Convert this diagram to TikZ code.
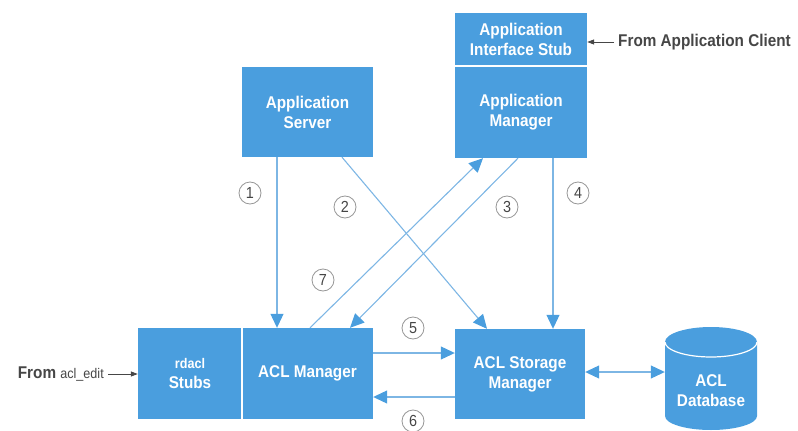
\documentclass[tikz,border=0pt]{standalone}
\usepackage{fontspec}
\setmainfont{Liberation Sans}[FakeStretch=0.9]
\usetikzlibrary{arrows.meta, positioning, calc}
\definecolor{hpblue}{RGB}{74,158,222}
\definecolor{hpline}{RGB}{125,182,228}
\definecolor{hpgrey}{RGB}{70,70,70}
\definecolor{hpring}{RGB}{150,150,150}
\tikzset{
  box/.style={fill=hpblue, text=white, font=\bfseries\fontsize{17}{20}\selectfont, align=center, inner sep=0pt},
  flow/.style={draw=hpline, line width=1.1pt, -{Triangle[length=14pt, width=13pt, color=hpblue]}},
  stepnum/.style={circle, draw=hpring, line width=0.8pt, minimum size=22pt, inner sep=0pt, text=hpgrey, font=\fontsize{16}{16}\selectfont},
  outer/.style={text=hpgrey, font=\bfseries\fontsize{17}{20}\selectfont, inner ysep=0pt, inner xsep=4pt},
}

\begin{document}
\begin{tikzpicture}[x=1pt, y=-1pt]
        \useasboundingbox (0,0) rectangle (798,431);

        \node [box, minimum width=131pt, minimum height=90pt] (srv) at (307.5, 112) {Application\\Server};
        \node [box, minimum width=132pt, minimum height=53pt] (stub) at (521, 39.5) {Application\\Interface Stub};
        \node [box, minimum width=132pt, minimum height=92pt] (appmgr) at (521, 112) {Application\\Manager};
        \node [box, minimum width=104pt, minimum height=91pt] (rdacl) at (190, 373.5) {{\fontsize{14}{17}\selectfont rdacl}\\Stubs};
        \node [box, minimum width=131pt, minimum height=91pt] (aclmgr) at (307.5, 373.5) {ACL Manager};
        \node [box, minimum width=130pt, minimum height=90pt] (store) at (520, 374) {ACL Storage\\Manager};

        \draw [white, line width=2pt] (rdacl.north east) -- (rdacl.south east);
        \draw [white, line width=2pt] (stub.south west) -- (stub.south east);

        % database drum
        \fill [hpblue] (665,342) arc [start angle=180, end angle=0, x radius=46pt, y radius=15pt]
            -- (757,416) arc [start angle=0, end angle=-180, x radius=46pt, y radius=14pt] -- cycle;
        \draw [white, line width=1.2pt] (665,342) arc [start angle=180, end angle=360, x radius=46pt, y radius=15pt];
        \node [box, fill=none, minimum width=92pt, minimum height=60pt] (db) at (711, 391) {ACL\\Database};

        \draw [flow] ([xshift=-30.5pt]srv.south) -- ([xshift=-30.5pt]aclmgr.north);
        \draw [flow] ([xshift=34.5pt]srv.south) -- ([xshift=-33pt]store.north);
        \draw [flow] ([xshift=-3pt]appmgr.south) -- ([xshift=42.5pt]aclmgr.north);
        \draw [flow] ([xshift=32pt]appmgr.south) -- ([xshift=33pt]store.north);
        \draw [flow] ([yshift=20.5pt]aclmgr.east) -- ([yshift=21pt]store.west);
        \draw [flow] ([yshift=-23pt]store.west) -- ([yshift=-23.5pt]aclmgr.east);
        \draw [flow] ([xshift=2.5pt]aclmgr.north) -- ([xshift=-38pt]appmgr.south);
        \draw [flow, {Triangle[length=14pt, width=13pt, color=hpblue]}-{Triangle[length=14pt, width=13pt, color=hpblue]}]
            ([yshift=2pt]store.east) -- ([yshift=2pt]store.east -| db.west);

        \node [stepnum] (n1) at (250, 193) {1};
        \node [stepnum] (n2) at (345, 207) {2};
        \node [stepnum] (n3) at (507, 207) {3};
        \node [stepnum] (n4) at (578, 193) {4};
        \node [stepnum] (n5) at (413, 328) {5};
        \node [stepnum] (n6) at (413, 421) {6};
        \node [stepnum] (n7) at (323, 280) {7};

        \node [outer, anchor=west] (client) at (614, 42) {From Application Client};
        \node [outer, anchor=east] (edit) at (108, 374) {From {\mdseries\fontsize{14}{17}\selectfont acl\_edit}};
        \draw [hpgrey, line width=0.8pt, -{Triangle[length=7pt, width=5pt]}] (client.west) -- (client.west -| stub.east);
        \draw [hpgrey, line width=0.8pt, -{Triangle[length=7pt, width=5pt]}] (edit.east) -- (edit.east -| rdacl.west);
    \end{tikzpicture}
\end{document}
